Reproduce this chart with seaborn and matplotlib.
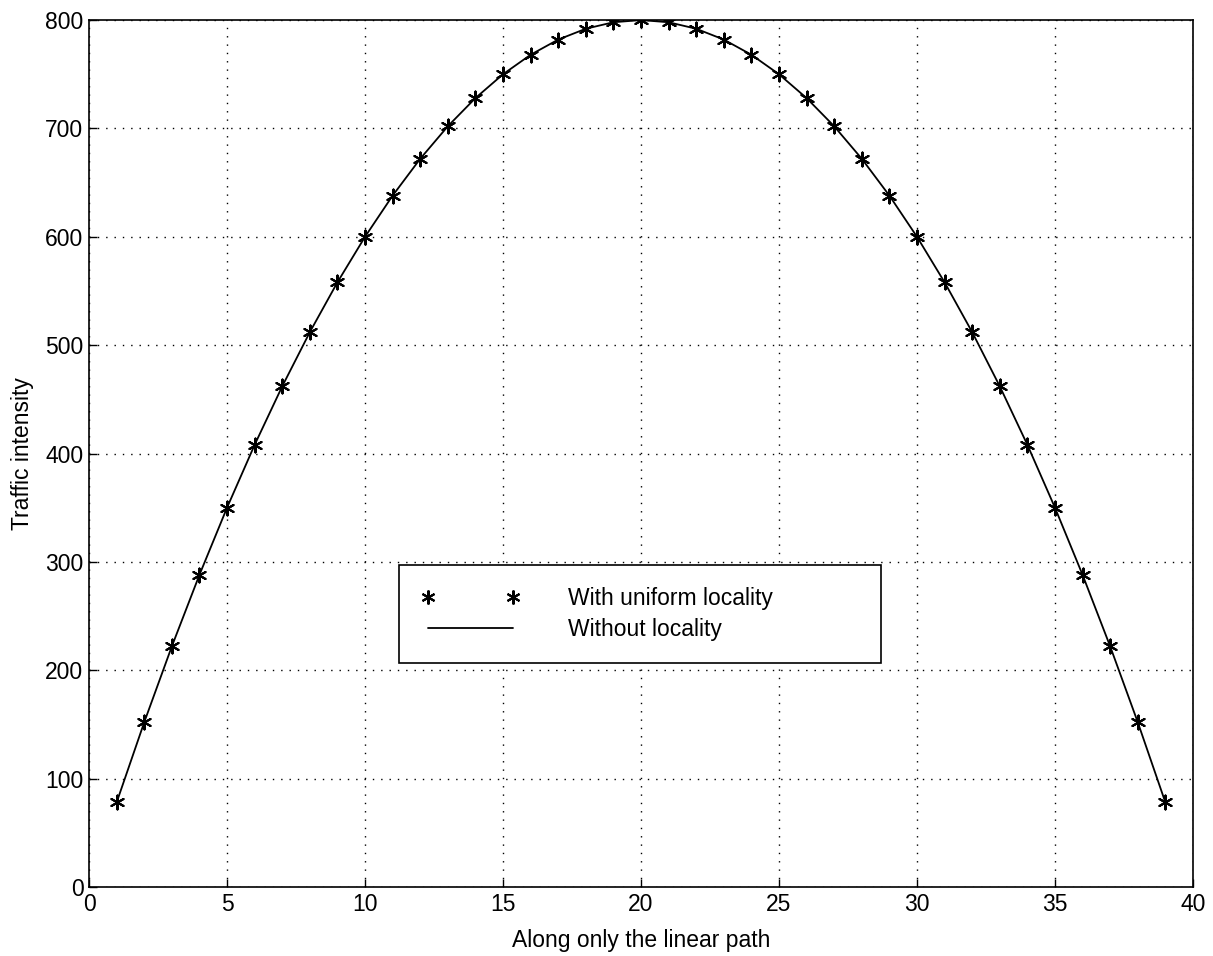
import matplotlib
matplotlib.use("Agg")
import matplotlib.pyplot as plt
from matplotlib.lines import Line2D
import seaborn as sns
import pandas as pd

# positions along the path and traffic intensity
position = list(range(1, 40))
with_locality = [78, 152, 222, 288, 350, 408, 462, 512, 558, 600,
                 638, 672, 702, 728, 750, 768, 782, 792, 798, 800,
                 798, 792, 782, 768, 750, 728, 702, 672, 638, 600,
                 558, 512, 462, 408, 350, 288, 222, 152, 78]
without_locality = [78, 152, 222, 288, 350, 408, 462, 512, 558, 600,
                    638, 672, 702, 728, 750, 768, 782, 792, 798, 800,
                    798, 792, 782, 768, 750, 728, 702, 672, 638, 600,
                    558, 512, 462, 408, 350, 288, 222, 152, 78]

df = pd.DataFrame({"x": position, "uniform": with_locality, "none": without_locality})

sns.set_style("ticks")
plt.rcParams["font.family"] = ["Liberation Sans", "DejaVu Sans"]
plt.rcParams["text.color"] = "black"
plt.rcParams["axes.labelcolor"] = "black"

fig = plt.figure(figsize=(12.13, 9.56), dpi=100)
ax = fig.add_axes([0.0734, 0.0722, 0.9101, 0.9068])

star_marker = (6, 2, 0)
sns.scatterplot(data=df, x="x", y="uniform", ax=ax, marker=star_marker, s=100,
                color="black", linewidth=1.5, edgecolor="black", zorder=3,
                legend=False)
sns.lineplot(data=df, x="x", y="none", ax=ax, color="black", linewidth=1.3,
             legend=False, zorder=2)

ax.set_xlim(0, 40)
ax.set_ylim(0, 800)
ax.set_xticks(range(0, 41, 5))
ax.set_yticks(range(0, 801, 100))
ax.grid(True, color="black", linestyle=(0, (1, 5)), linewidth=1.0)
ax.tick_params(direction="in", length=6, width=1, labelsize=16.5,
               colors="black", pad=4)
for s in ax.spines.values():
    s.set_visible(True)
    s.set_color("black")
    s.set_linewidth(1.2)

ax.set_xlabel("Along only the linear path", fontsize=16.5, labelpad=10)
ax.set_ylabel("Traffic intensity", fontsize=16.5, labelpad=8)

star = Line2D([], [], linestyle="none", marker=star_marker, markersize=10,
              color="black", markeredgewidth=1.5)
line = Line2D([], [], color="black", linewidth=1.3)
leg = ax.legend([star, line], ["With uniform locality", "Without locality"],
                loc="upper left", bbox_to_anchor=(0.281, 0.371, 0.436, 0),
                mode="expand", fontsize=16.5, numpoints=2, handlelength=4.3,
                handletextpad=2.1, fancybox=False, framealpha=1,
                edgecolor="black", borderpad=0.95, labelspacing=0.35,
                borderaxespad=0)
leg.get_frame().set_linewidth(1.2)

fig.savefig("out.png", dpi=100)
